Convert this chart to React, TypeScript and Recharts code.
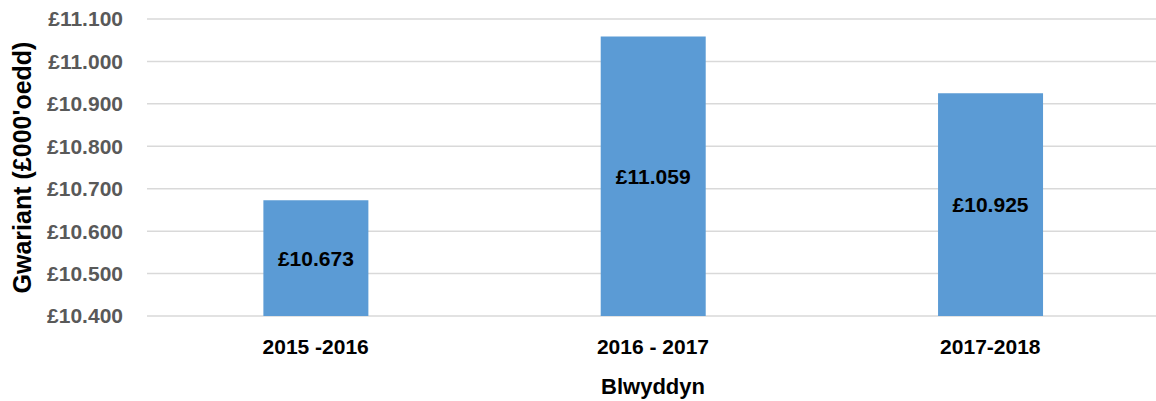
import { BarChart, Bar, XAxis, YAxis, CartesianGrid, LabelList } from "recharts"

const years = ["2015 -2016", "2016 - 2017", "2017-2018"]
const spend = [10673, 11059, 10925]
const yTicks = [10400, 10500, 10600, 10700, 10800, 10900, 11000, 11100]

const data = years.map((year, i) => ({ year, spend: spend[i] }))

const font = "'Liberation Sans', Arial, sans-serif"

// £000s shown with a dot as thousands separator, e.g. £10.673
const money = (v: number) => "£" + (v / 1000).toFixed(3)

export default function App() {
  return (
    <div style={{ position: "absolute", left: 0, top: 0, width: 1156, height: 401, overflow: "hidden", background: "#fff" }}>
      <BarChart
        width={1160}
        height={401}
        data={data}
        margin={{ top: 19, right: 1, left: 0, bottom: 0 }}
        barCategoryGap="34.5%"
        style={{ fontFamily: font }}
      >
        <CartesianGrid vertical={false} stroke="#d9d9d9" strokeWidth={1.5} />
        <XAxis
          dataKey="year"
          axisLine={false}
          tickLine={false}
          height={85}
          tickMargin={17}
          tick={{ fill: "#000", fontSize: 21, fontWeight: 700, fontFamily: font }}
          label={{
            value: "Blwyddyn",
            position: "insideBottom",
            offset: 7,
            style: { fill: "#000", fontSize: 22, fontWeight: 700, fontFamily: font },
          }}
        />
        <YAxis
          width={147}
          domain={[10400, 11100]}
          ticks={yTicks}
          axisLine={false}
          tickLine={false}
          tickMargin={18}
          tickFormatter={money}
          tick={{ fill: "#595959", fontSize: 21, fontWeight: 700, fontFamily: font }}
          label={{
            value: "Gwariant (£000'oedd)",
            angle: -90,
            position: "insideLeft",
            offset: 22,
            style: { textAnchor: "middle", fill: "#000", fontSize: 25, fontWeight: 700, fontFamily: font },
          }}
        />
        <Bar dataKey="spend" fill="#5b9bd5" isAnimationActive={false}>
          <LabelList
            dataKey="spend"
            position="center"
            formatter={(v: any) => money(Number(v))}
            style={{ fill: "#000", fontSize: 21, fontWeight: 700, fontFamily: font }}
          />
        </Bar>
      </BarChart>
    </div>
  )
}
